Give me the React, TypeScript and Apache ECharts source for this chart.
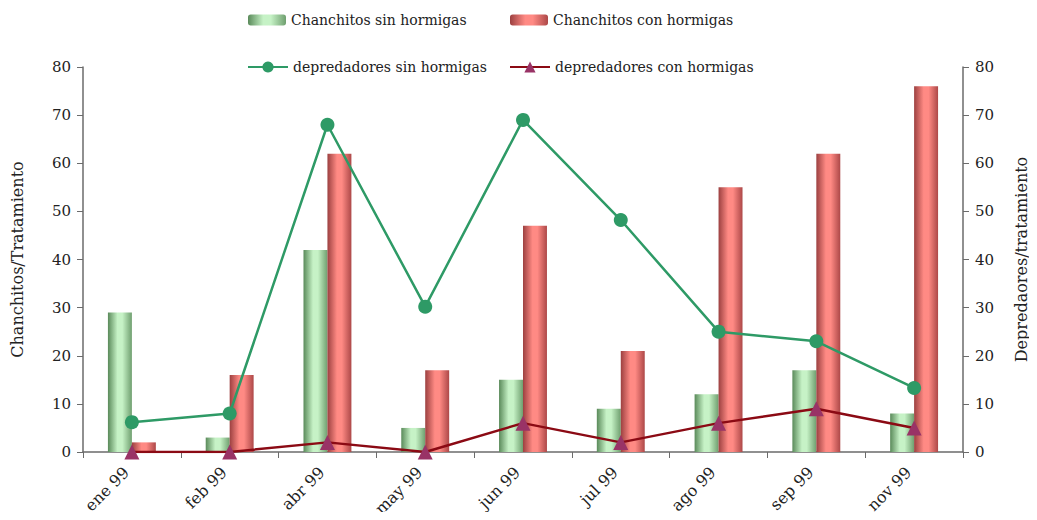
import React, { useEffect, useRef } from "react";
import * as echarts from "echarts";

const categories = ["ene 99", "feb 99", "abr 99", "may 99", "jun 99", "jul 99", "ago 99", "sep 99", "nov 99"];
const chanchitosSin = [29, 3, 42, 5, 15, 9, 12, 17, 8];
const chanchitosCon = [2, 16, 62, 17, 47, 21, 55, 62, 76];
const depredadoresSin = [6.2, 8, 68, 30.2, 69, 48.2, 25, 23, 13.3];
const depredadoresCon = [0, 0, 2, 0, 6, 2, 6, 9, 5];
const yTicks = [0, 80, 10];

const FONT = "DejaVu Serif";

const greenGrad = new echarts.graphic.LinearGradient(0, 0, 1, 0, [
  { offset: 0, color: "#5a8a5a" },
  { offset: 0.4, color: "#c6f2c6" },
  { offset: 0.6, color: "#c6f2c6" },
  { offset: 1, color: "#6f9f6f" },
]);
const redGrad = new echarts.graphic.LinearGradient(0, 0, 1, 0, [
  { offset: 0, color: "#9c4040" },
  { offset: 0.4, color: "#ff8a84" },
  { offset: 0.6, color: "#ff8a84" },
  { offset: 1, color: "#ad4848" },
]);

export default function App() {
  const ref = useRef<HTMLDivElement>(null);
  useEffect(() => {
    const chart = echarts.init(ref.current!, null, { renderer: "svg" });
    const axisLine = { show: true, lineStyle: { color: "#6b6b6b", width: 1.5 } };
    const axisLabelStyle = { fontFamily: FONT, fontSize: 15, color: "#222" };
    const legendText = { fontFamily: FONT, fontSize: 14, color: "#222" };
    const mkLegend = (name: string, left: number, top: number, w: number, h: number) => ({
      top,
      left,
      itemWidth: w,
      itemHeight: h,
      itemGap: 4,
      textStyle: legendText,
      data: [name],
    });
    chart.setOption({
      animation: false,
      backgroundColor: "#fff",
      legend: [
        mkLegend("Chanchitos sin hormigas", 243, 8, 38, 11),
        mkLegend("Chanchitos con hormigas", 505, 8, 38, 11),
        mkLegend("depredadores sin hormigas", 242, 55, 40, 14),
        mkLegend("depredadores con hormigas", 504, 55, 40, 14),
      ],
      grid: { left: 83, right: 72, top: 67, bottom: 68, containLabel: false },
      xAxis: {
        type: "category",
        data: categories,
        axisLine,
        axisTick: { show: true, length: 6, lineStyle: { color: "#6b6b6b" } },
        axisLabel: { ...axisLabelStyle, fontSize: 16, rotate: 45, margin: 12, padding: [0, 8, 0, 0] },
      },
      yAxis: [
        {
          type: "value",
          min: yTicks[0],
          max: yTicks[1],
          interval: yTicks[2],
          name: "Chanchitos/Tratamiento",
          nameLocation: "middle",
          nameRotate: 90,
          nameGap: 58,
          nameTextStyle: { fontFamily: FONT, fontSize: 16, color: "#222" },
          axisLine,
          axisTick: { show: true, length: 6, lineStyle: { color: "#6b6b6b" } },
          axisLabel: { ...axisLabelStyle, margin: 12 },
          splitLine: { show: false },
        },
        {
          type: "value",
          min: yTicks[0],
          max: yTicks[1],
          interval: yTicks[2],
          position: "right",
          name: "Depredaores/tratamiento",
          nameLocation: "middle",
          nameRotate: 90,
          nameGap: 50,
          nameTextStyle: { fontFamily: FONT, fontSize: 16, color: "#222" },
          axisLine,
          axisTick: { show: true, length: 6, lineStyle: { color: "#6b6b6b" } },
          axisLabel: { ...axisLabelStyle, margin: 12 },
          splitLine: { show: false },
        },
      ],
      series: [
        {
          name: "Chanchitos sin hormigas",
          type: "bar",
          data: chanchitosSin,
          barGap: "0%",
          barCategoryGap: "51%",
          itemStyle: { color: greenGrad },
        },
        {
          name: "Chanchitos con hormigas",
          type: "bar",
          data: chanchitosCon,
          barGap: "0%",
          barCategoryGap: "51%",
          itemStyle: { color: redGrad },
        },
        {
          name: "depredadores sin hormigas",
          type: "line",
          yAxisIndex: 1,
          data: depredadoresSin,
          symbol: "circle",
          symbolSize: 14,
          lineStyle: { color: "#2e9a66", width: 2.5 },
          itemStyle: { color: "#2e9a66" },
          z: 4,
        },
        {
          name: "depredadores con hormigas",
          type: "line",
          yAxisIndex: 1,
          data: depredadoresCon,
          symbol: "triangle",
          symbolSize: 15,
          lineStyle: { color: "#8b0a14", width: 2.5 },
          itemStyle: { color: "#993366" },
          z: 5,
        },
      ],
    });
    return () => chart.dispose();
  }, []);
  return <div ref={ref} style={{ width: 1037, height: 520, margin: -8 }} />;
}
